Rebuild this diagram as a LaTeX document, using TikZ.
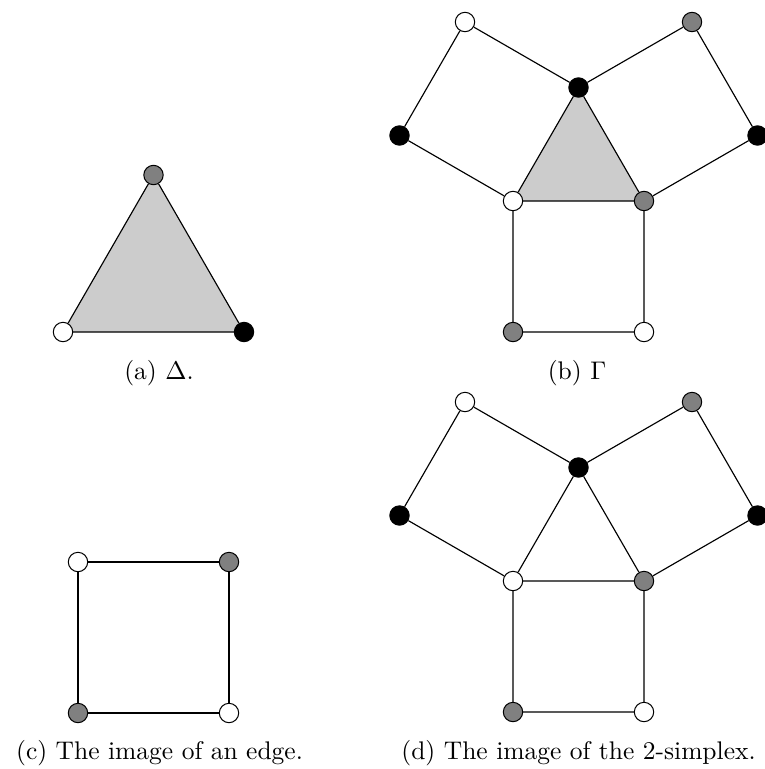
\documentclass[tikz,border=0pt]{standalone}
\usetikzlibrary{backgrounds}
\begin{document}
\begin{tikzpicture}[x=0.39216pt,y=-0.39216pt,
  v/.style={circle, draw=black, line width=0.4pt, inner sep=0pt, minimum size=7.6pt},
  vw/.style={v, fill=white}, vb/.style={v, fill=black}, vg/.style={v, fill=gray},
  edge/.style={draw=black, line width=0.45pt},
  face/.style={fill=gray!40},
  captext/.style={anchor=base, inner sep=0pt, font=\normalsize}]
\useasboundingbox (0,0) rectangle (764,769);
% (a)
\node[vw] (aW) at (63,332) {};
\node[vb] (aB) at (244,332) {};
\node[vg] (aG) at (153.5,175) {};
% (b)
\node[vw] (bW) at (513,201) {};
\node[vg] (bG) at (644,201) {};
\node[vb] (bB) at (578.5,87.5) {};
\node[vg] (bGb) at (513,332) {};
\node[vw] (bWb) at (644,332) {};
\node[vb] (bLB) at (399.5,135.5) {};
\node[vw] (bLW) at (465,22) {};
\node[vg] (bRG) at (692,22) {};
\node[vb] (bRB) at (757.5,135.5) {};
% (c)
\node[vw] (cW) at (78,562) {};
\node[vg] (cG) at (229,562) {};
\node[vg] (cGb) at (78,713) {};
\node[vw] (cWb) at (229,713) {};
% (d)
\node[vw] (dW) at (513,581) {};
\node[vg] (dG) at (644,581) {};
\node[vb] (dB) at (578.5,467.5) {};
\node[vg] (dGb) at (513,712) {};
\node[vw] (dWb) at (644,712) {};
\node[vb] (dLB) at (399.5,515.5) {};
\node[vw] (dLW) at (465,402) {};
\node[vg] (dRG) at (692,402) {};
\node[vb] (dRB) at (757.5,515.5) {};
\begin{pgfonlayer}{background}
\fill[face] (aW.center) -- (aB.center) -- (aG.center) -- cycle;
\fill[face] (bW.center) -- (bG.center) -- (bB.center) -- cycle;
\draw[edge] (aW) -- (aB) (aB) -- (aG) (aG) -- (aW);
\draw[edge] (bW) -- (bG) (bG) -- (bB) (bB) -- (bW)
  (bW) -- (bGb) (bGb) -- (bWb) (bWb) -- (bG)
  (bW) -- (bLB) (bLB) -- (bLW) (bLW) -- (bB)
  (bB) -- (bRG) (bRG) -- (bRB) (bRB) -- (bG);
\draw[edge] (cW) -- (cG) (cG) -- (cWb) (cWb) -- (cGb) (cGb) -- (cW);
\draw[edge] (dW) -- (dG) (dG) -- (dB) (dB) -- (dW)
  (dW) -- (dGb) (dGb) -- (dWb) (dWb) -- (dG)
  (dW) -- (dLB) (dLB) -- (dLW) (dLW) -- (dB)
  (dB) -- (dRG) (dRG) -- (dRB) (dRB) -- (dG);
\end{pgfonlayer}
\node[captext] (capa) at (159,379) {(a) $\Delta$.};
\node[captext] (capb) at (577,379) {(b) $\Gamma$};
\node[captext] (capc) at (159.5,759) {(c) The image of an edge.};
\node[captext] (capd) at (578.5,759) {(d) The image of the 2-simplex.};
\end{tikzpicture}
\end{document}
